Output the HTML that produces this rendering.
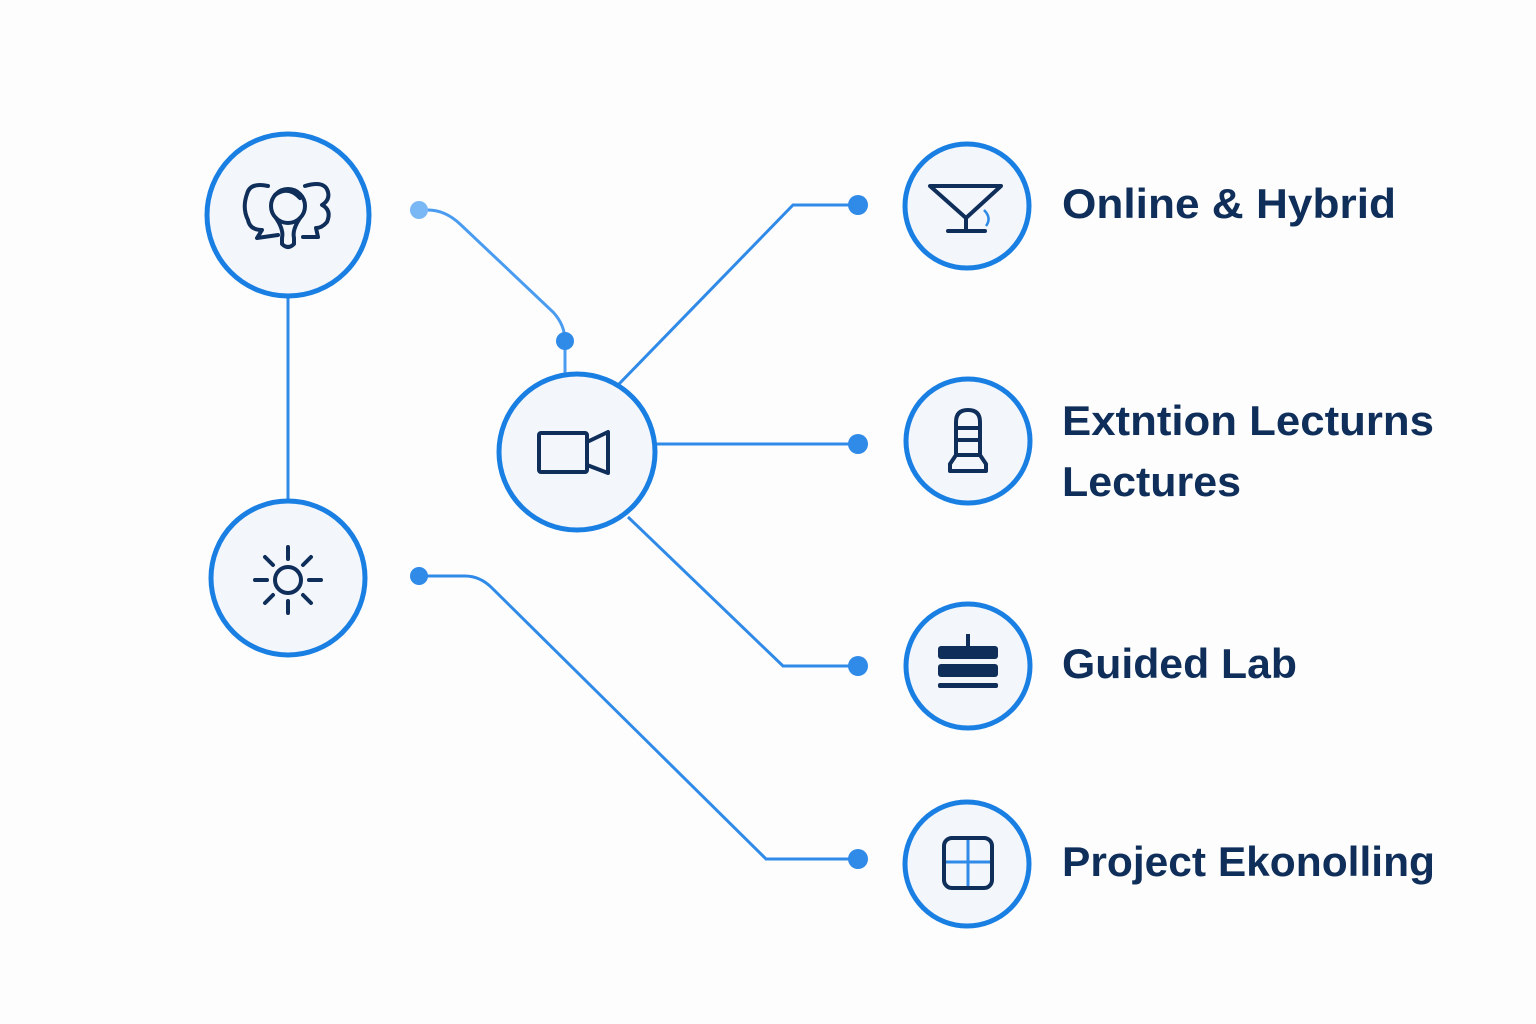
<!DOCTYPE html>
<html><head><meta charset="utf-8"><style>html,body{margin:0;padding:0;background:#fdfdfe}svg{display:block}</style></head>
<body>
<svg width="1536" height="1024" viewBox="0 0 1536 1024" xmlns="http://www.w3.org/2000/svg">
<rect width="1536" height="1024" fill="#fdfdfe"/>
<g fill="none" stroke="#2f8ae8" stroke-width="3">
<line x1="288" y1="296" x2="288" y2="501"/>
<path d="M419 210 H428 Q445 210 460 224 L553 312 Q565 325 565 341 V374" stroke="#4a9cf0"/>
<path d="M619 384 L793 205 H858"/>
<path d="M655 444 H858"/>
<path d="M628 517 L783 666 H858"/>
<path d="M419 576 H465 Q480 576 492 588 L766 859 H858"/>
</g>
<g fill="#2f8ae8">
<circle cx="419" cy="210" r="9" fill="#7ab8f5"/>
<circle cx="565" cy="341" r="9"/>
<circle cx="858" cy="205" r="10"/>
<circle cx="858" cy="444" r="10"/>
<circle cx="858" cy="666" r="10"/>
<circle cx="858" cy="859" r="10"/>
<circle cx="419" cy="576" r="9"/>
</g>
<g fill="#f3f7fc" stroke="#1a7fe3" stroke-width="5">
<circle cx="288" cy="215" r="81"/>
<circle cx="288" cy="578" r="77"/>
<circle cx="577" cy="452" r="78"/>
<circle cx="967" cy="206" r="62"/>
<circle cx="968" cy="441" r="62"/>
<circle cx="968" cy="666" r="62"/>
<circle cx="967" cy="864" r="62"/>
</g>
<g fill="none" stroke="#0f2f5a" stroke-width="4" stroke-linecap="round" stroke-linejoin="round">
<path d="M268 186 Q250 182 247 194 Q242 208 248 220 Q250 230 262 230 L257 238 L278 235"/>
<circle cx="288" cy="206" r="17"/>
<path d="M276 218 Q284 230 282 238 L282 244 Q288 250 294 244 L294 238 Q292 230 300 218"/>
<path d="M305 186 Q325 180 328 192 Q330 200 322 205 Q332 210 327 222 Q322 228 316 228 L318 237 L303 237"/>
<path d="M275 195 Q288 185 300 198"/>
<circle cx="288" cy="580" r="13"/>
<path d="M288 547 V559 M288 601 V613 M255 580 H267 M309 580 H321 M265 557 L273 565 M303 595 L311 603 M311 557 L303 565 M273 595 L265 603"/>
<rect x="539" y="433" width="48" height="39" rx="2"/>
<path d="M587 442 L608 432 V473 L587 465"/>
<path d="M930 186 H1001 L966 218 Z M966 218 V231 M948 231 H985"/>
<path d="M956 455 V422 Q956 410 968 410 Q980 410 980 422 V455 M956 428 H980 M956 440 H980 M956 455 L950 464 V471 H986 V464 L980 455 Z"/>
<rect x="944" y="838" width="48" height="50" rx="8"/>
</g>
<path d="M984 210 Q992 218 986 226" fill="none" stroke="#2f8ae8" stroke-width="2.5"/>
<path d="M968 840 V886 M946 862 H990" stroke="#2f8ae8" stroke-width="3"/>
<g fill="#0f2f5a">
<rect x="938" y="646" width="60" height="13" rx="3"/>
<rect x="938" y="664" width="60" height="13" rx="3"/>
<rect x="938" y="683" width="60" height="5" rx="2"/>
<rect x="966" y="634" width="4" height="12"/>
</g>
<g font-family="Liberation Sans, sans-serif" font-weight="bold" font-size="42" fill="#0f2f5a">
<text x="1062" y="218" textLength="334" lengthAdjust="spacingAndGlyphs">Online &amp; Hybrid</text>
<text x="1062" y="435" textLength="372" lengthAdjust="spacingAndGlyphs">Extntion Lecturns</text>
<text x="1062" y="496" textLength="179" lengthAdjust="spacingAndGlyphs">Lectures</text>
<text x="1062" y="678" textLength="235" lengthAdjust="spacingAndGlyphs">Guided Lab</text>
<text x="1062" y="876" textLength="373" lengthAdjust="spacingAndGlyphs">Project Ekonolling</text>
</g>
</svg>
</body></html>
